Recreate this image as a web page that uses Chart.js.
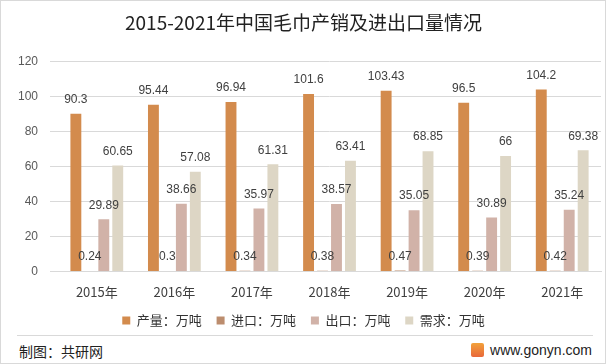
<!DOCTYPE html>
<html>
<head>
<meta charset="utf-8">
<script src="https://cdn.jsdelivr.net/npm/chart.js@4"></script>
<style>
  html, body { margin: 0; padding: 0; background: #fff; }
  #box { position: relative; width: 604px; height: 362px; border: 1px solid #d9d9d9; font-family: "Noto Sans CJK SC", sans-serif; }
  #wrap { position: absolute; left: 0; top: 0; width: 604px; height: 338px; }
  #footLine { position: absolute; left: 16px; right: 12px; top: 334px; border-top: 1px solid #d9d9d9; }
  #footL { position: absolute; left: 18px; top: 340px; font-size: 14px; color: #222; }
  #footR { position: absolute; right: 13px; top: 341px; font-size: 14px; color: #222; font-family: "Liberation Sans", sans-serif; }
  #logo { display: inline-block; width: 13px; height: 14px; background: linear-gradient(#f2a13a, #e8683a); border-radius: 2px; vertical-align: -2px; margin-right: 6px; }
</style>
</head>
<body>
<div id="box">
  <div id="wrap"><canvas id="grafico"></canvas></div>
  <div id="footLine"></div>
  <div id="footL">制图：共研网</div>
  <div id="footR"><span id="logo"></span>www.gonyn.com</div>
</div>
<script>
// datos
const anios = ['2015年', '2016年', '2017年', '2018年', '2019年', '2020年', '2021年'];
const produccion = [90.3, 95.44, 96.94, 101.6, 103.43, 96.5, 104.2];
const importacion = [0.24, 0.3, 0.34, 0.38, 0.47, 0.39, 0.42];
const exportacion = [29.89, 38.66, 35.97, 38.57, 35.05, 30.89, 35.24];
const demanda = [60.65, 57.08, 61.31, 63.41, 68.85, 66, 69.38];
const titulo = '2015-2021年中国毛巾产销及进出口量情况';

// etiquetas encima de cada barra
const etiquetas = {
    id: 'etiquetas',
    afterDatasetsDraw(chart) {
        const ctx = chart.ctx;
        ctx.save();
        ctx.font = '12px "Liberation Sans", sans-serif';
        ctx.fillStyle = '#404040';
        ctx.textAlign = 'center';
        ctx.textBaseline = 'bottom';
        chart.data.datasets.forEach((ds, i) => {
            chart.getDatasetMeta(i).data.forEach((bar, j) => {
                ctx.fillText(String(ds.data[j]), bar.x, bar.y - 8);
            });
        });
        ctx.restore();
    }
};

const serie = (label, data, color) => ({
    label, data, backgroundColor: color,
    categoryPercentage: 0.72, barPercentage: 0.78
});

new Chart(document.getElementById('grafico'), {
    type: 'bar',
    data: {
        labels: anios,
        datasets: [
            serie('产量：万吨', produccion, '#d38b4d'),
            serie('进口：万吨', importacion, '#bc8d6e'),
            serie('出口：万吨', exportacion, '#d1b2a8'),
            serie('需求：万吨', demanda, '#ddd6c5')
        ]
    },
    options: {
        responsive: true,
        maintainAspectRatio: false,
        animation: false,
        layout: { padding: { left: 5, right: 4, top: 0, bottom: 2 } },
        plugins: {
            title: {
                display: true,
                text: titulo,
                color: '#222',
                font: { size: 19, family: '"Noto Sans CJK SC", sans-serif', weight: 'normal' },
                padding: { top: 10, bottom: 28 }
            },
            legend: {
                position: 'bottom',
                labels: {
                    boxWidth: 8, boxHeight: 8, color: '#333',
                    font: { size: 13, family: '"Noto Sans CJK SC", sans-serif' },
                    padding: 9,
                    // un poco más de aire entre elementos, sin cambiar la altura
                    generateLabels(chart) {
                        const items = Chart.defaults.plugins.legend.labels.generateLabels(chart);
                        items.forEach((it, k) => { if (k < items.length - 1) it.text += '  '; });
                        return items;
                    }
                }
            },
            tooltip: { enabled: false }
        },
        scales: {
            x: {
                grid: { display: false },
                border: { color: '#d9d9d9' },
                ticks: { color: '#404040', font: { size: 13, family: '"Noto Sans CJK SC", sans-serif' }, padding: 5 }
            },
            y: {
                min: 0, max: 120,
                ticks: { stepSize: 20, color: '#595959', font: { size: 12, family: '"Liberation Sans", sans-serif' }, padding: 12 },
                grid: { color: '#d9d9d9' },
                border: { display: false }
            }
        }
    },
    plugins: [etiquetas]
});
</script>
</body>
</html>
